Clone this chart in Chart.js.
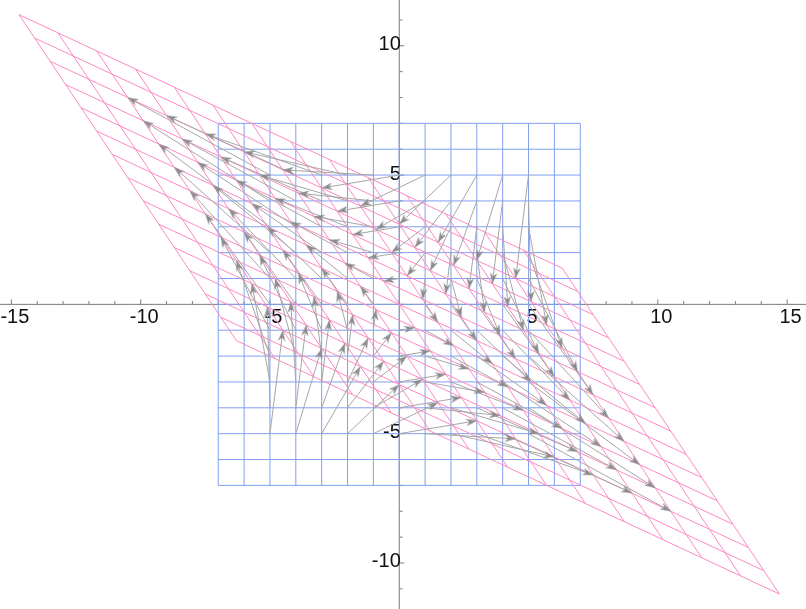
<!DOCTYPE html>
<html>
<head>
<meta charset="utf-8">
<script src="https://cdn.jsdelivr.net/npm/chart.js@4"></script>
<style>
  html, body { margin: 0; padding: 0; background: #fff; }
  #wrap { width: 806px; height: 609px; }
</style>
</head>
<body>
<div id="wrap"><canvas id="transformChart" width="806" height="609"></canvas></div>
<script>
// linear map: columns are images of (1,0) and (0,1)
const matrixRow1 = [1.5, -0.6]
const matrixRow2 = [-0.7, 0.9]

// blue grid lines and arrow start points
const gridSteps = [-7, -6, -5, -4, -3, -2, -1, 0, 1, 2, 3, 4, 5, 6, 7]
const arrowSteps = [-5, -4, -3, -2, -1, 0, 1, 2, 3, 4, 5]

// axis ticks
const xTickLabels = [-15, -10, -5, 5, 10, 15]
const yTickLabels = [-10, -5, 5, 10]
const xMinor = [-15, 15]
const yMinor = [-11, 11]

const apply = (x, y) => ({
  x: matrixRow1[0] * x + matrixRow1[1] * y,
  y: matrixRow2[0] * x + matrixRow2[1] * y
})
const gap = { x: 0, y: null }

// original grid
const blueData = []
const pinkData = []
const lo = gridSteps[0], hi = gridSteps[gridSteps.length - 1]
gridSteps.forEach(s => {
  blueData.push({ x: s, y: lo }, { x: s, y: hi }, gap)
  blueData.push({ x: lo, y: s }, { x: hi, y: s }, gap)
  pinkData.push(apply(s, lo), apply(s, hi), gap)
  pinkData.push(apply(lo, s), apply(hi, s), gap)
})

// arrows p -> A p
const shaftData = []
const headData = []
arrowSteps.forEach(i => {
  arrowSteps.forEach(j => {
    if (i === 0 && j === 0) return
    const p = apply(i, j)
    shaftData.push({ x: i, y: j }, p, gap)
    headData.push({ x: p.x, y: p.y, fx: i, fy: j })
  })
})

// arrowhead image, tip at the centre, pointing right
const head = document.createElement('canvas')
head.width = 30
head.height = 30
const hc = head.getContext('2d')
hc.fillStyle = '#8c8c8c'
hc.beginPath()
hc.moveTo(15, 15)
hc.lineTo(4, 11.2)
hc.lineTo(7.5, 15)
hc.lineTo(4, 18.8)
hc.closePath()
hc.fill()

const axesPlugin = {
  id: 'axes',
  beforeDatasetsDraw(chart) {
    const { ctx, chartArea } = chart
    const sx = chart.scales.x, sy = chart.scales.y
    const x0 = sx.getPixelForValue(0)
    const y0 = sy.getPixelForValue(0)
    ctx.save()
    ctx.strokeStyle = '#7a7a7a'
    ctx.lineWidth = 1
    ctx.beginPath()
    ctx.moveTo(chartArea.left, y0)
    ctx.lineTo(chartArea.right, y0)
    ctx.moveTo(x0, chartArea.top)
    ctx.lineTo(x0, chartArea.bottom)
    for (let v = xMinor[0]; v <= xMinor[1]; v++) {
      const px = sx.getPixelForValue(v)
      ctx.moveTo(px, y0)
      ctx.lineTo(px, y0 - (v % 5 === 0 ? 5 : 3.3))
    }
    for (let v = yMinor[0]; v <= yMinor[1]; v++) {
      const py = sy.getPixelForValue(v)
      ctx.moveTo(x0, py)
      ctx.lineTo(x0 + (v % 5 === 0 ? 5 : 3.3), py)
    }
    ctx.stroke()

    ctx.fillStyle = '#111'
    ctx.font = '20px "Liberation Sans", Arial, sans-serif'
    ctx.textBaseline = 'alphabetic'
    ctx.textAlign = 'center'
    xTickLabels.forEach(v => {
      ctx.fillText(String(v), sx.getPixelForValue(v) + 3.5, y0 + 19)
    })
    ctx.textAlign = 'right'
    yTickLabels.forEach(v => {
      ctx.fillText(String(v), x0 + 1.5, sy.getPixelForValue(v) + 4.5)
    })
    ctx.restore()
  }
}

const lineSet = (data, color, order) => ({
  data: data,
  showLine: true,
  borderColor: color,
  borderWidth: 1,
  pointRadius: 0,
  pointHoverRadius: 0,
  spanGaps: false,
  order: order
})

const config = {
  type: 'scatter',
  data: {
    datasets: [
      lineSet(blueData, '#7f9ff0', 3),
      lineSet(pinkData, '#ff88c4', 2),
      lineSet(shaftData, '#a6a6a6', 1),
      {
        data: headData,
        showLine: false,
        pointStyle: head,
        pointRadius: 5,
        pointHoverRadius: 5,
        rotation: (c) => {
          const r = c.raw
          if (!r || r.fx === undefined) return 0
          const sx = c.chart.scales.x, sy = c.chart.scales.y
          const dx = sx.getPixelForValue(r.x) - sx.getPixelForValue(r.fx)
          const dy = sy.getPixelForValue(r.y) - sy.getPixelForValue(r.fy)
          return Math.atan2(dy, dx) * 180 / Math.PI
        },
        order: 0
      }
    ]
  },
  options: {
    responsive: false,
    animation: false,
    events: [],
    layout: { padding: 0, autoPadding: false },
    scales: {
      x: { type: 'linear', min: -15.44, max: 15.73, display: false },
      y: { type: 'linear', min: -11.78, max: 11.77, display: false }
    },
    plugins: {
      legend: { display: false },
      tooltip: { enabled: false }
    }
  },
  plugins: [axesPlugin]
}

const transformChart = new Chart(document.getElementById('transformChart'), config)
</script>
</body>
</html>
